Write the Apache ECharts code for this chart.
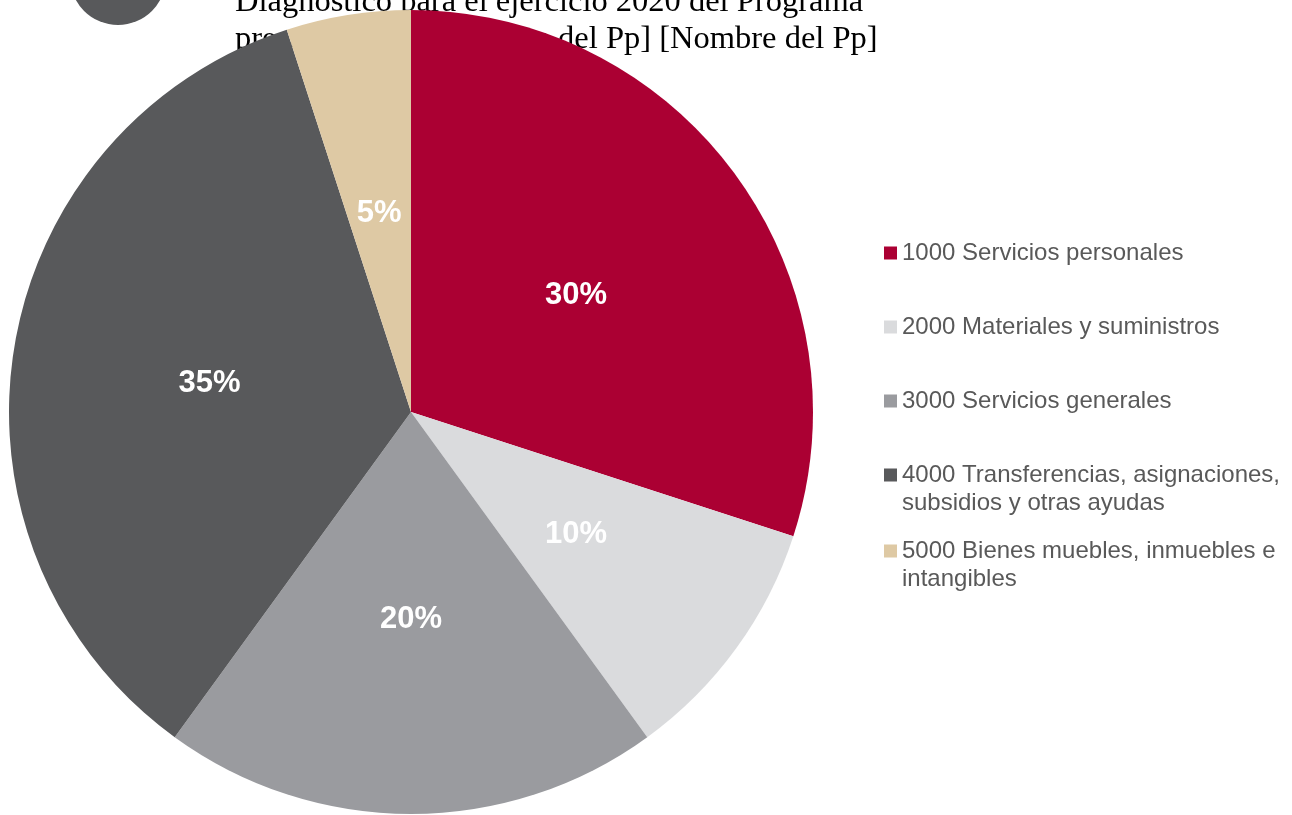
<!DOCTYPE html>
<html>
<head>
<meta charset="utf-8">
<script src="https://cdn.jsdelivr.net/npm/echarts@6/dist/echarts.min.js"></script>
<style>
  html, body { margin: 0; padding: 0; background: #fff; }
  #chart { width: 1292px; height: 815px; }
</style>
</head>
<body>
<div id="chart"></div>
<script>
// capítulos de gasto
const categories = [
  '1000 Servicios personales',
  '2000 Materiales y suministros',
  '3000 Servicios generales',
  '4000 Transferencias, asignaciones,\nsubsidios y otras ayudas',
  '5000 Bienes muebles, inmuebles e\nintangibles'
];
const shares = [30, 10, 20, 35, 5];
const colors = ['#AB0033', '#DADBDD', '#9A9B9F', '#58595B', '#DEC9A4'];
const titleLines = [
  'Diagnóstico para el ejercicio 2020 del Programa',
  'presupuestario [Nombre del Pp] [Nombre del Pp]'
];

const chart = echarts.init(document.getElementById('chart'));

// una leyenda por elemento para controlar la posición vertical;
// en los de dos líneas el icono va alineado con la primera línea
const legendTops = [239, 313, 387, 461, 537];
const twoLineIcon = 'path://M0,0H13V13H0Z M0,41L0.01,41L0,41.01Z';
const legends = categories.map((name, i) => {
  const multi = name.indexOf('\n') >= 0;
  return {
    data: [name],
    orient: 'vertical',
    left: 884,
    top: legendTops[i],
    padding: 0,
    icon: multi ? twoLineIcon : 'rect',
    itemWidth: 13,
    itemHeight: multi ? 41 : 13,
    selectedMode: false,
    textStyle: {
      fontFamily: 'Liberation Sans, Arial, sans-serif',
      fontSize: 24,
      lineHeight: 28,
      color: '#595959'
    }
  };
});

const titleFont = '32.5px "Liberation Serif", "Times New Roman", serif';

const option = {
  backgroundColor: '#ffffff',
  animation: false,
  color: colors,
  graphic: [
    {
      type: 'circle',
      shape: { cx: 118, cy: -23, r: 48 },
      style: { fill: '#58595B' },
      z: 0
    },
    {
      type: 'text',
      left: 235,
      top: -14,
      style: { text: titleLines[0], font: titleFont, fill: '#000' },
      z: 0
    },
    {
      type: 'text',
      left: 235,
      top: 23,
      style: { text: titleLines[1], font: titleFont, fill: '#000' },
      z: 0
    }
  ],
  legend: legends,
  series: [
    {
      type: 'pie',
      center: [411, 412],
      radius: 402,
      startAngle: 90,
      clockwise: true,
      z: 5,
      label: {
        position: 'inside',
        formatter: '{c}%',
        color: '#fff',
        fontFamily: 'Liberation Sans, Arial, sans-serif',
        fontWeight: 'bold',
        fontSize: 31,
        offset: [0, 3]
      },
      labelLine: { show: false },
      emphasis: { disabled: true },
      itemStyle: { borderWidth: 0 },
      data: categories.map((name, i) => ({ name: name, value: shares[i] }))
    }
  ]
};

chart.setOption(option);
</script>
</body>
</html>
